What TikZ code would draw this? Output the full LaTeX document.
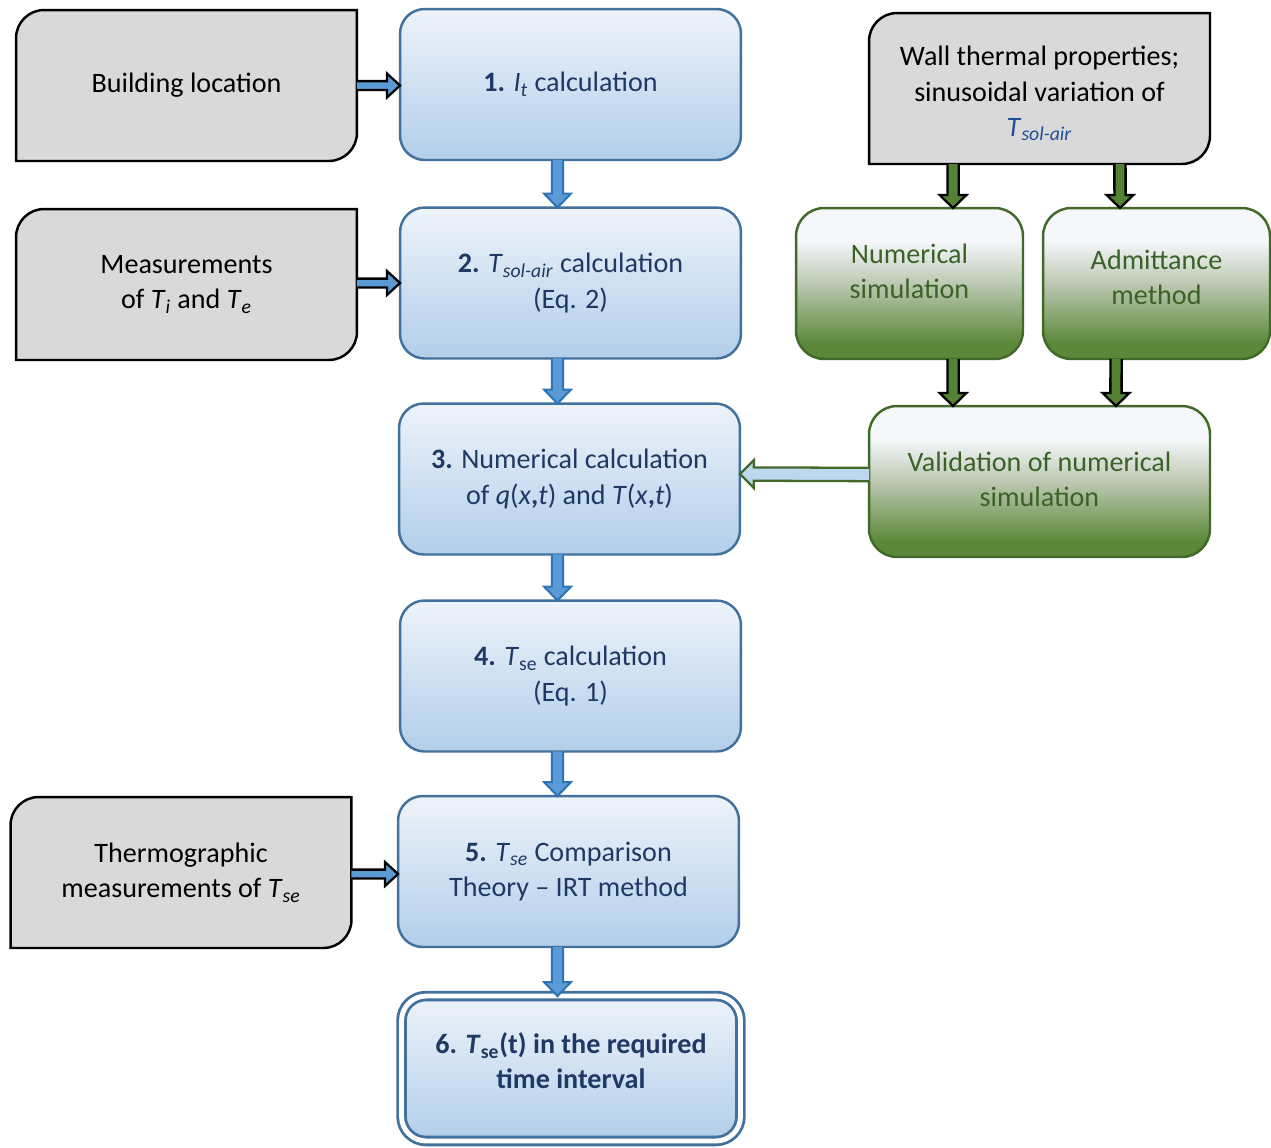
\documentclass[tikz,border=0pt]{standalone}
\usepackage{fontspec}
\setmainfont{Carlito}
\usetikzlibrary{calc,backgrounds}

\definecolor{boxline}{HTML}{41719C}
\definecolor{boxtop}{HTML}{EEF3FA}
\definecolor{boxbot}{HTML}{B2CEEA}
\definecolor{navy}{HTML}{1F3864}
\definecolor{arrfill}{HTML}{5B9BD5}
\definecolor{arrline}{HTML}{2E75B6}
\definecolor{grayfill}{HTML}{D9D9D9}
\definecolor{grnline}{HTML}{41692A}
\definecolor{grntext}{HTML}{3B6127}
\definecolor{grnfill}{HTML}{548235}
\definecolor{grnW}{HTML}{F5F7FA}
\definecolor{grnM}{HTML}{BCC8B2}
\definecolor{grnD}{HTML}{5A8838}
\definecolor{solair}{HTML}{1F4E99}
\definecolor{backfill}{HTML}{BDD7EE}

\pgfdeclareverticalshading{greenfade}{100bp}{color(0bp)=(grnD); color(30bp)=(grnD); color(50bp)=(grnM); color(64bp)=(grnW); color(100bp)=(grnW)}

% block arrow: style, from, to, half shaft, half head, head length
\newcommand{\blockarrow}[6]{%
  \filldraw[#1] let \p1=(#2), \p2=(#3), \n1={atan2(\y2-\y1,\x2-\x1)} in
    ($(\p1)+(\n1+90:#4)$) -- ($(\p2)+(\n1+180:#6)+(\n1+90:#4)$)
    -- ($(\p2)+(\n1+180:#6)+(\n1+90:#5)$) -- (\p2)
    -- ($(\p2)+(\n1+180:#6)+(\n1-90:#5)$) -- ($(\p2)+(\n1+180:#6)+(\n1-90:#4)$)
    -- ($(\p1)+(\n1-90:#4)$);
}
% lift a node's text
\newcommand{\lift}[1]{\rule[-#1]{0pt}{0pt}}

\begin{document}
\begin{tikzpicture}[
x=0.02cm, y=-0.02cm,
every node/.style={font=\fontsize{16}{20}\selectfont, align=center, outer sep=0pt},
stage/.style={draw=boxline, line width=1.4pt, rounded corners=14pt, top color=boxtop, bottom color=boxbot,
  text=navy, minimum width=6.82cm, minimum height=3.02cm},
input/.style={minimum width=6.82cm, minimum height=3.02cm},
method/.style={draw=grnline, line width=1.4pt, rounded corners=16pt, shading=greenfade,
  text=grntext, minimum width=4.54cm, minimum height=3.02cm},
graybox/.style={draw=black, line width=1.4pt, fill=grayfill},
bluearr/.style={draw=arrline, line width=1.2pt, fill=arrfill},
sidearr/.style={draw=black, line width=1.3pt, fill=arrfill},
greenarr/.style={draw=black, line width=1.3pt, fill=grnfill},
backarr/.style={draw=grnline, line width=1.3pt, fill=backfill}
]
\useasboundingbox (0,0) rectangle (1271,1147);

% main column
\node[stage] (s1) at (570.5,84.5) {\textbf{1.} \textit{I}\textsubscript{\textit{t}} calculation};
\node[stage] (s2) at (570.5,283) {\textbf{2.} \textit{T}\textsubscript{\textit{sol-air}} calculation\\(Eq. 2)};
\node[stage] (s3) at (569.5,479) {\textbf{3.} Numerical calculation\\of \textit{q}(\textit{x}\textbf{,}\textit{t}) and \textit{T}(\textit{x}\textbf{,}\textit{t})};
\node[stage] (s4) at (570.5,676) {\textbf{4.} \textit{T}\textsubscript{se} calculation\\(Eq. 1)};
\node[stage] (s5) at (568.5,871.5) {\textbf{5.} \textit{T}\textsubscript{\textit{se}} Comparison\\Theory -- IRT method};
\node[stage, double=white, double distance=2.8pt, line width=1.6pt, minimum width=6.78cm, minimum height=2.9cm,
  font=\fontsize{16}{20}\selectfont\bfseries] (s6) at (571,1068.5)
  {6. \textit{T}\textsubscript{se}(t) in the required\\time interval\lift{9pt}};

% inputs
\node[input] (loc) at (186.5,85.5) {Building location};
\node[input] (meas) at (186.5,284.5) {Measurements\\of \textit{T}\textsubscript{\textit{i}} and \textit{T}\textsubscript{\textit{e}}};
\node[input] (thermo) at (181,872.5) {Thermographic\\measurements of \textit{T}\textsubscript{\textit{se}}};
\node[input] (wall) at (1039.5,88.5) {\rule{0pt}{17pt}Wall thermal properties;\\sinusoidal variation of\\{\color{solair}\textit{T}\textsubscript{\textit{sol-air}}}};

% validation branch
\node[method] (num) at (909.5,283.5) {Numerical\\simulation\lift{14pt}};
\node[method] (adm) at (1156.5,283.5) {Admittance\\method\lift{7pt}};
\node[method, minimum width=6.82cm] (val) at (1039.5,481.5) {Validation of numerical\\simulation\lift{3pt}};

\begin{scope}[on background layer]
\foreach \g in {loc,meas,thermo,wall}
  \draw[graybox] (\g.south west) -- ([yshift=-16pt]\g.north west) arc[start angle=180, end angle=90, radius=16pt]
    -- (\g.north east) -- ([yshift=16pt]\g.south east) arc[start angle=0, end angle=-90, radius=16pt] -- cycle;
\end{scope}

% arrows
\blockarrow{sidearr}{loc.east}{loc.east -| s1.west}{2.5pt}{6.8pt}{7.4pt}
\blockarrow{sidearr}{s2.west -| meas.east}{s2.west}{2.5pt}{6.8pt}{7.4pt}
\blockarrow{sidearr}{$(thermo.east)+(0,1.5)$}{$(thermo.east -| s5.west)+(0,1.5)$}{2.5pt}{6.8pt}{7.4pt}
\foreach \sa/\sb in {s1/s2,s2/s3,s3/s4,s4/s5,s5/s6}{
  \blockarrow{bluearr}{$(\sa.south -| s1.south)+(-13,0)$}{$(\sb.north -| s1.south)+(-13,0)$}{3.2pt}{7.6pt}{7.9pt}
}
\blockarrow{greenarr}{$(wall.south west)+(84,0)$}{$(num.north west)+(157,0)$}{3.2pt}{7.6pt}{7.4pt}
\blockarrow{greenarr}{$(wall.south east)+(-90,0)$}{$(adm.north west)+(77,0)$}{3.2pt}{7.6pt}{7.4pt}
\blockarrow{greenarr}{$(num.south west)+(157,0)$}{$(val.north west)+(84,0)$}{3.2pt}{7.6pt}{7.4pt}
\blockarrow{greenarr}{$(adm.south west)+(73,0)$}{$(val.north east)+(-94,0)$}{3.2pt}{7.6pt}{7.4pt}
\blockarrow{backarr}{$(val.west)+(0,-7)$}{$(s3.east)+(0,-5)$}{3.8pt}{7.9pt}{7.9pt}
\end{tikzpicture}
\end{document}
